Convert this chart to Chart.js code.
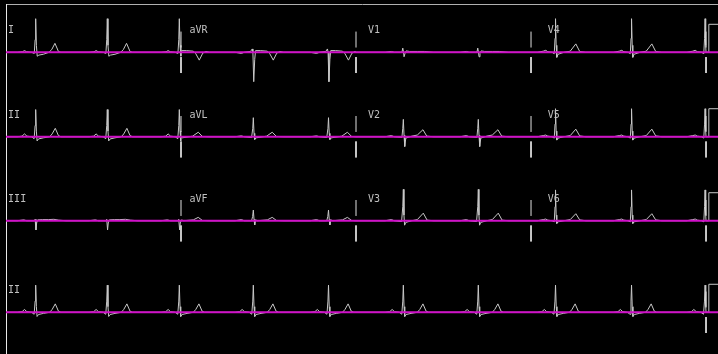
<!DOCTYPE html>
<html>
<head>
<meta charset="utf-8">
<script src="https://cdn.jsdelivr.net/npm/chart.js@4.4.0/dist/chart.umd.min.js"></script>
<style>
  html, body { margin: 0; padding: 0; background: #000; }
  canvas { display: block; }
</style>
</head>
<body>
<canvas id="ecg" width="718" height="354"></canvas>
<script>
// Tiempos de cada latido (pico R), en segundos
const beatTimes = [0.424, 1.447, 2.476, 3.533, 4.607, 5.676, 6.747, 7.85, 8.936, 9.986];

// Forma de un latido por derivación: [ms desde el pico R, mV]
const leadI   = [[-260,0],[-190,0.02],[-160,0.06],[-130,0.02],[-60,0],[-20,-0.04],[-8,0.45],[0,1.2],[10,0.25],[22,-0.14],[45,-0.1],[110,-0.07],[190,0],[230,0.1],[275,0.32],[325,0.03],[360,0],[430,0]];
const leadII  = [[-260,0],[-195,0.02],[-160,0.1],[-125,0.02],[-60,0],[-22,-0.07],[-8,0.4],[0,0.97],[10,0.2],[20,-0.15],[40,-0.08],[110,-0.04],[200,0],[235,0.1],[280,0.3],[325,0.04],[360,0],[430,0]];
const leadIII = [[-260,0],[-170,0.03],[-130,0],[-20,0],[-8,0.05],[4,-0.33],[14,-0.08],[28,0.03],[100,0.04],[180,0.04],[260,0.05],[330,0.02],[430,0]];
const leadAVR = [[-260,0],[-170,-0.04],[-130,0],[-40,0.03],[-15,0.12],[-6,0],[6,-1.05],[20,-0.25],[32,0.06],[100,0.06],[200,0.04],[235,-0.05],[285,-0.28],[335,-0.03],[380,0.03],[430,0]];
const leadAVL = [[-260,0],[-170,0.03],[-130,0],[-25,-0.03],[-8,0.3],[0,0.68],[10,0.12],[20,-0.1],[40,-0.04],[190,0.02],[270,0.16],[330,0.01],[430,0]];
const leadAVF = [[-260,0],[-170,0.04],[-130,0],[-25,0],[-10,0.15],[0,0.38],[10,0.05],[20,-0.15],[32,0.03],[60,0],[200,0.03],[270,0.12],[330,0.01],[430,0]];
const leadV1  = [[-260,0],[-170,0.03],[-130,0],[-20,0],[-8,0.15],[2,0.02],[10,-0.16],[24,-0.04],[40,0.05],[90,0.03],[200,0.03],[300,0.03],[430,0]];
const leadV2  = [[-260,0],[-170,0.04],[-130,0],[-20,-0.02],[-8,0.3],[0,0.62],[10,0.05],[20,-0.35],[35,-0.05],[120,0.02],[200,0.06],[280,0.25],[335,0.02],[430,0]];
const leadV3  = [[-260,0],[-170,0.04],[-130,0],[-25,-0.03],[-8,0.5],[0,1.12],[9,0.2],[18,-0.16],[35,-0.06],[120,0],[200,0.04],[285,0.27],[340,0.02],[430,0]];
const leadV4  = [[-260,0],[-175,0.04],[-140,0.07],[-110,0.02],[-50,0],[-18,-0.05],[-7,0.5],[0,1.2],[9,0.25],[18,-0.18],[36,-0.07],[120,0],[210,0.04],[290,0.3],[345,0.03],[430,0]];
const leadV5  = [[-260,0],[-175,0.04],[-140,0.06],[-110,0.02],[-50,0],[-18,-0.05],[-7,0.45],[0,1.0],[9,0.2],[18,-0.12],[36,-0.05],[120,0],[210,0.04],[290,0.27],[345,0.03],[430,0]];
const leadV6  = [[-260,0],[-175,0.04],[-140,0.06],[-110,0.02],[-50,0],[-18,-0.04],[-7,0.5],[0,1.1],[9,0.2],[18,-0.1],[36,-0.04],[120,0],[210,0.04],[290,0.25],[345,0.03],[430,0]];

const leadShapes = {
    I: leadI, II: leadII, III: leadIII,
    aVR: leadAVR, aVL: leadAVL, aVF: leadAVF,
    V1: leadV1, V2: leadV2, V3: leadV3, V4: leadV4, V5: leadV5, V6: leadV6
};

// Derivaciones por fila (3 filas de 4 columnas) y tira de ritmo
const rowLeads = [
    ['I', 'aVR', 'V1', 'V4'],
    ['II', 'aVL', 'V2', 'V5'],
    ['III', 'aVF', 'V3', 'V6']
];
const rhythmLead = 'II';

// Segmentos de 2.5 s por columna, tira completa de 10 s
const columnStarts = [0, 2.5, 5, 7.5];
const columnLength = 2.5;
const stripLength = 10;

// Pulso de calibración (1 mV)
const calStart = 10.04;
const calHeight = 1;

// Disposición: 70 px/s, 28 px/mV
const xMax = 10.171;
const yMax = 12.5;
const rowBase = [10.775, 7.76, 4.76, 1.49];
const labelOffset = [0.03, 0.12, 0.17, 0.24];
const labelRise = 0.68;

const traceColor = '#c8c8c8';
const baseColor = '#d010c8';
const markColor = '#e0e0e0';

function buildTrace(shape, t0, t1, base) {
    const pts = [{ x: t0, y: base }];
    beatTimes.forEach(tb => {
        shape.forEach(([ms, mv]) => {
            const t = tb + ms / 1000;
            if (t > t0 && t < t1) pts.push({ x: t, y: base + mv });
        });
    });
    pts.push({ x: t1, y: base });
    return pts;
}

function lineSet(data, color, width, order) {
    return {
        data: data,
        showLine: true,
        borderColor: color,
        borderWidth: width,
        pointRadius: 0,
        tension: 0,
        order: order
    };
}

const datasets = [];

// Trazos de las 12 derivaciones
rowLeads.forEach((row, r) => {
    row.forEach((name, c) => {
        const t0 = columnStarts[c];
        datasets.push(lineSet(buildTrace(leadShapes[name], t0, t0 + columnLength, rowBase[r]), traceColor, 1, 2));
    });
});
// Tira de ritmo
datasets.push(lineSet(buildTrace(leadShapes[rhythmLead], 0, stripLength, rowBase[3]), traceColor, 1, 2));

// Marcas de separación entre columnas y pulsos de calibración
const marks = [];
rowBase.forEach((base, r) => {
    const times = r < 3 ? columnStarts.slice(1).concat([stripLength]) : [stripLength];
    times.forEach(t => {
        marks.push({ x: t, y: base + 0.17 }, { x: t, y: base + 0.74 }, { x: t, y: null });
        marks.push({ x: t, y: base - 0.17 }, { x: t, y: base - 0.74 }, { x: t, y: null });
    });
    datasets.push(lineSet([
        { x: stripLength, y: base },
        { x: calStart, y: base },
        { x: calStart, y: base + calHeight },
        { x: xMax + 0.2, y: base + calHeight }
    ], traceColor, 1, 2));
});
datasets.push(lineSet(marks, markColor, 1, 1));

// Líneas base (magenta), encima de los trazos
rowBase.forEach(base => {
    datasets.push(lineSet([{ x: 0, y: base }, { x: xMax, y: base }], baseColor, 2, 0));
});

// Nombres de las derivaciones
const leadLabels = {
    id: 'leadLabels',
    afterDatasetsDraw(chart) {
        const { ctx, scales: { x, y } } = chart;
        ctx.save();
        ctx.font = '10px "DejaVu Sans Mono"';
        ctx.fillStyle = '#c0c0c0';
        ctx.textBaseline = 'alphabetic';
        rowLeads.forEach((row, r) => row.forEach((name, c) => {
            ctx.fillText(name, x.getPixelForValue(columnStarts[c] + labelOffset[c]), y.getPixelForValue(rowBase[r] + labelRise));
        }));
        ctx.fillText(rhythmLead, x.getPixelForValue(labelOffset[0]), y.getPixelForValue(rowBase[3] + labelRise));
        ctx.restore();
    }
};

new Chart(document.getElementById('ecg').getContext('2d'), {
    type: 'scatter',
    data: { datasets: datasets },
    options: {
        responsive: false,
        animation: false,
        devicePixelRatio: 1,
        layout: { padding: { left: 6, top: 4, right: 0, bottom: 0 } },
        scales: {
            x: {
                type: 'linear', position: 'top', min: 0, max: xMax,
                ticks: { display: false },
                grid: { display: false, drawTicks: false },
                border: { color: '#b0b0b0', width: 1 }
            },
            y: {
                type: 'linear', min: 0, max: yMax,
                ticks: { display: false },
                grid: { display: false, drawTicks: false },
                border: { color: '#e8e8e8', width: 1 }
            }
        },
        plugins: {
            legend: { display: false },
            tooltip: { enabled: false }
        }
    },
    plugins: [leadLabels]
});
</script>
</body>
</html>
